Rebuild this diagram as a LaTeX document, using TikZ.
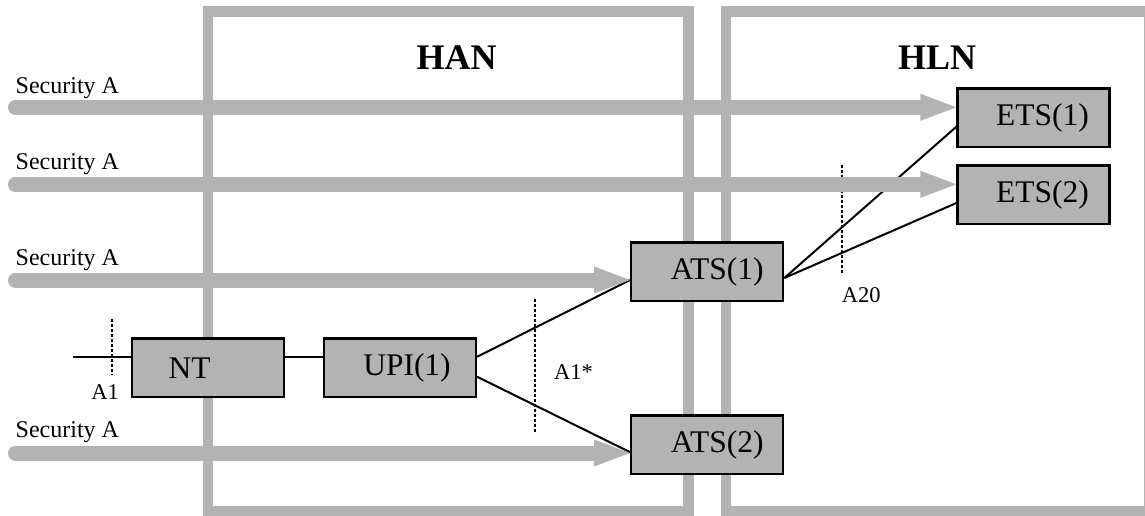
\documentclass[tikz,border=0pt]{standalone}
\usepackage{fontspec}
\setmainfont{Liberation Serif}
\usetikzlibrary{arrows.meta,calc}
\pgfdeclarelayer{bg}
\pgfsetlayers{bg,main}
\definecolor{gr}{RGB}{179,179,179}
\tikzset{
  zone/.style={draw=gr, line width=10.5pt},
  unit/.style={draw=black, fill=gr, line width=2.2pt, minimum width=152pt, minimum height=58.5pt, inner sep=0pt, font=\fontsize{31.5}{36}\selectfont},
  wire/.style={draw=black, line width=2pt},
  flow/.style={draw=gr, line width=15pt, line cap=round, -{Triangle[length=36pt,width=27pt,line width=0pt]}, gr},
  cut/.style={draw=black, line width=2pt, dash pattern=on 2.5pt off 2.5pt},
  seclabel/.style={anchor=base west, inner sep=0pt, font=\fontsize{24}{28}\selectfont},
  reflabel/.style={inner sep=0pt, font=\fontsize{22.5}{26}\selectfont},
  zonelabel/.style={anchor=base, inner sep=0pt, font=\bfseries\fontsize{36}{40}\selectfont}
}
\begin{document}
\begin{tikzpicture}[x=1pt,y=-1pt]
\useasboundingbox (0,0) rectangle (1145,515);
% boxes
\node[unit] (NT) at (208,367.75) {NT\hspace*{37pt}};
\node[unit] (UPI) at (400,367.75) {\hspace*{14pt}UPI(1)};
\node[unit] (ATS1) at (707.2,271.7) {\hspace*{20pt}ATS(1)};
\node[unit] (ATS2) at (707.2,444.7) {\hspace*{20pt}ATS(2)};
\node[unit] (ETS1) at (1033.5,117.7) {\hspace*{18pt}ETS(1)};
\node[unit] (ETS2) at (1033.5,194.7) {\hspace*{18pt}ETS(2)};
% zone labels
\node[zonelabel] (han) at (456.7,69.3) {HAN};
\node[zonelabel] (hln) at (937,69.3) {HLN};
% coordinates
\coordinate (in) at (72.7,357.3);
\coordinate (s1) at (15.5,107.3);
\coordinate (s2) at (15.5,184.3);
\coordinate (s3) at (15.5,280);
\coordinate (s4) at (15.5,453);
\coordinate (d1a) at (111.7,319);
\coordinate (d1b) at (111.7,375);
\coordinate (d2a) at (535,299.3);
\coordinate (d2b) at (535,431.7);
\coordinate (d3a) at (841.7,165);
\coordinate (d3b) at (841.7,275);
\begin{pgfonlayer}{bg}
  \draw[zone] (208,11.3) rectangle (688.5,511.5);
  \draw[zone] (726,11.3) rectangle (1149.5,511.5);
  % black connectors
  \draw[wire] (in) -- (in -| NT.west);
  \draw[wire] (NT.east |- in) -- (UPI.west |- in);
  \draw[wire] ($(UPI.east)+(0,-11)$) -- ($(ATS1.west)+(0,8.3)$);
  \draw[wire] ($(UPI.east)+(0,9)$) -- ($(ATS2.west)+(0,7.5)$);
  \draw[wire] ($(ATS1.east)+(0,6.3)$) -- ($(ETS1.west)+(0,9)$);
  \draw[wire] ($(ATS1.east)+(0,6.3)$) -- ($(ETS2.west)+(0,8.3)$);
  % cut lines
  \draw[cut] (d1a) -- (d1b);
  \draw[cut] (d2a) -- (d2b);
  \draw[cut] (d3a) -- (d3b);
  % gray flows
  \draw[flow] (s1) -- (s1 -| ETS1.west);
  \draw[flow] (s2) -- (s2 -| ETS2.west);
  \draw[flow] (s3) -- (s3 -| ATS1.west);
  \draw[flow] (s4) -- (s4 -| ATS2.west);
\end{pgfonlayer}
% labels
\node[seclabel] (l1) at (15.5,93) {Security A};
\node[seclabel] (l2) at (15.5,169.5) {Security A};
\node[seclabel] (l3) at (15.5,265.5) {Security A};
\node[seclabel] (l4) at (15.5,437.5) {Security A};
\node[reflabel, anchor=base east] (a1) at (119,399) {A1};
\node[reflabel, anchor=base west] (a1s) at (554,379.3) {A1*};
\node[reflabel, anchor=base west] (a20) at (841.7,302.7) {A20};
\end{tikzpicture}
\end{document}
